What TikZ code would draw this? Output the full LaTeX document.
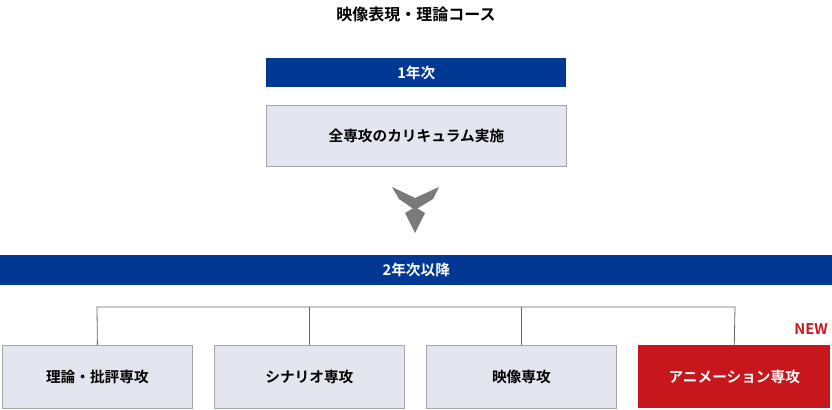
\documentclass[tikz,border=0pt]{standalone}
\usepackage{fontspec}
\setmainfont{Noto Sans CJK JP}[BoldFont={* Bold}]
\definecolor{navy}{HTML}{003893}
\definecolor{pale}{HTML}{E3E6EF}
\definecolor{red1}{HTML}{C8161D}
\begin{document}
\begin{tikzpicture}[x=0.75pt,y=-0.75pt,
 bar/.style={fill=navy,draw=none,text=white,font=\bfseries\fontsize{11}{13}\selectfont,inner sep=0,anchor=north west},
 box/.style={fill=pale,draw=gray!70,line width=0.6pt,font=\bfseries\fontsize{11}{13}\selectfont,inner sep=0,anchor=north west},
 redbox/.style={fill=red1,draw=none,text=white,font=\bfseries\fontsize{11}{13}\selectfont,inner sep=0,anchor=north west},
 conn/.style={draw=black!60,line width=0.6pt}]
\useasboundingbox (0,0) rectangle (832,410);
\node[font=\bfseries\fontsize{12}{14}\selectfont] (title) at (416,14) {映像表現・理論コース};
\node[bar,minimum width=300*0.75pt,minimum height=29*0.75pt] (y1) at (266,58) {1年次};
\node[box,minimum width=300*0.75pt,minimum height=61*0.75pt] (all) at (266,105) {全専攻のカリキュラム実施};
\fill[gray!70!black!80] (392,187)--(415,198)--(439,187)--(433,199)--(415,210)--(399,199)--cycle;
\fill[gray!70!black!80] (405,213)--(415,207)--(425,213)--(415,233)--cycle;
\node[bar,minimum width=832*0.75pt,minimum height=30*0.75pt] (y2) at (0,255) {2年次以降};
\node[box,minimum width=190*0.75pt,minimum height=63*0.75pt] (b1) at (2,345) {理論・批評専攻};
\node[box,minimum width=190*0.75pt,minimum height=63*0.75pt] (b2) at (214,345) {シナリオ専攻};
\node[box,minimum width=190*0.75pt,minimum height=63*0.75pt] (b3) at (426,345) {映像専攻};
\node[redbox,minimum width=192*0.75pt,minimum height=63*0.75pt] (b4) at (638,345) {アニメーション専攻};
\coordinate (h1) at (97,307);
\coordinate (h4) at (735,307);
\draw[conn] (b1.north) -- (h1) -- (h4) -- (b4.north);
\draw[conn] (b2.north) -- (b2.north |- h1);
\draw[conn] (b3.north) -- (b3.north |- h1);
\node[text=red1,font=\bfseries\fontsize{11}{13}\selectfont] (new) at (811,329) {NEW};
\end{tikzpicture}
\end{document}
